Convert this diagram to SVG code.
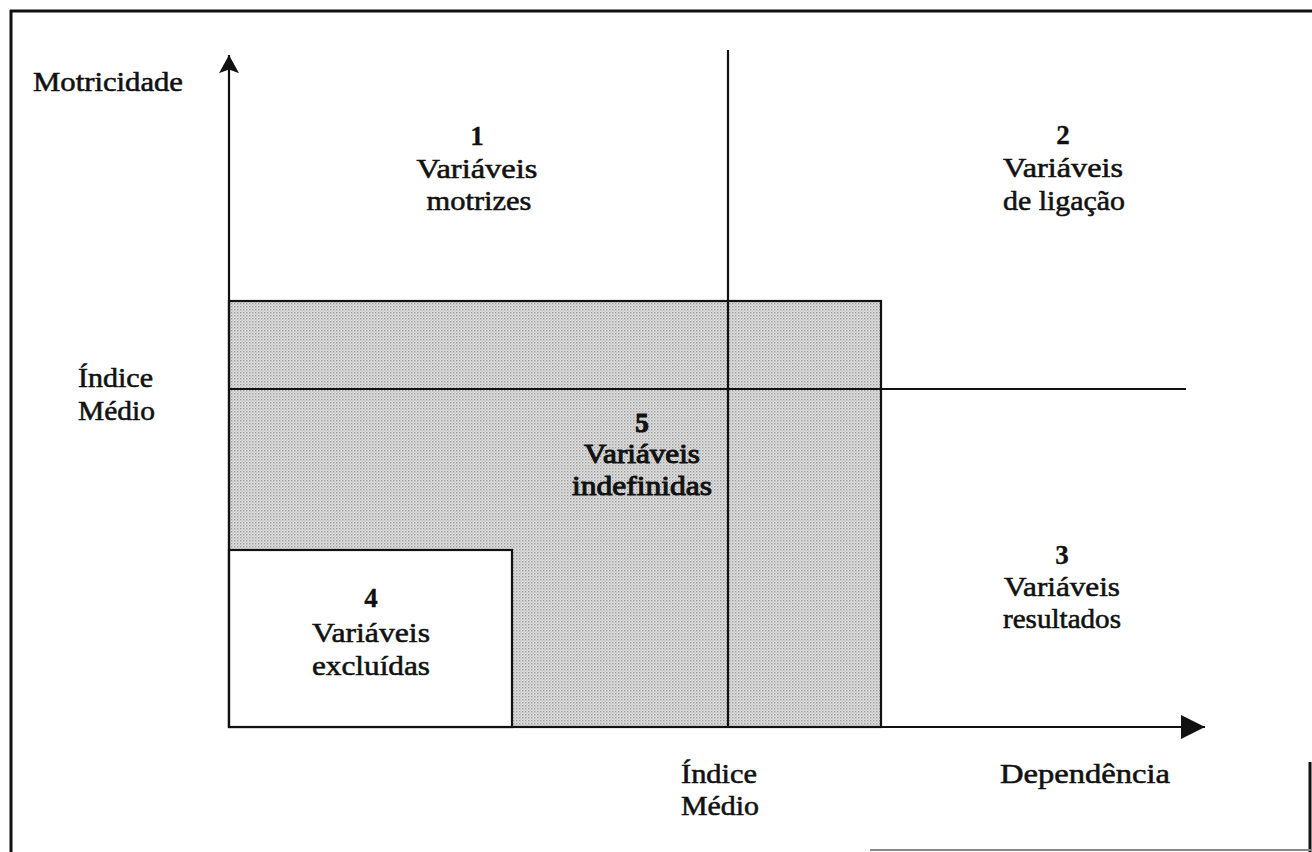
<svg xmlns="http://www.w3.org/2000/svg" width="1312" height="852" viewBox="0 0 1312 852">
  <defs>
    <style>
      .t { font-family: "Liberation Serif", "Times New Roman", serif; font-size: 27px; fill: #111; stroke: #111; stroke-width: 0.55; }
      .n { font-weight: bold; stroke-width: 0.3; }
      .heavy { stroke-width: 1; }
      .ln { stroke: #111; stroke-width: 2.2; fill: none; }
      .frame { stroke: #111; stroke-width: 3; fill: none; }
    </style>
    <!-- halftone dot screen used for the grey zone -->
    <pattern id="dots" width="3" height="3" patternUnits="userSpaceOnUse">
      <rect width="3" height="3" fill="#e0e0e0"/>
      <rect x="0" y="0" width="1.4" height="1.4" fill="#9c9c9c"/>
      <rect x="1.5" y="1.5" width="1.2" height="1.2" fill="#b8b8b8"/>
    </pattern>
    <marker id="arrowX" viewBox="0 0 24 24" refX="24" refY="12" markerWidth="24" markerHeight="24" markerUnits="userSpaceOnUse" orient="auto">
      <path d="M0,0 L24,12 L0,24 Z" fill="#111"/>
    </marker>
    <marker id="arrowY" viewBox="0 0 22 20" refX="20" refY="11" markerWidth="20" markerHeight="22" markerUnits="userSpaceOnUse" orient="auto">
      <path d="M0,0 L20,11 L0,22 L4,11 Z" fill="#111"/>
    </marker>
  </defs>

  <rect width="1312" height="852" fill="#ffffff"/>

  <!-- page frame -->
  <g id="frame">
    <line class="frame" x1="10" y1="11" x2="1312" y2="11"/>
    <line class="frame" x1="11" y1="10" x2="11" y2="852"/>
    <line class="frame" x1="1310" y1="762" x2="1310" y2="852" stroke-width="2"/>
    <line x1="870" y1="850" x2="1312" y2="850" stroke="#888" stroke-width="2"/>
  </g>

  <!-- zone 5: undefined variables (shaded) -->
  <g id="zone5">
    <rect x="229" y="301" width="652" height="426" fill="url(#dots)" stroke="#111" stroke-width="2.2"/>
    <text class="t n heavy" x="642" y="432" text-anchor="middle">5</text>
    <text class="t heavy" x="642" y="463" text-anchor="middle" textLength="116" lengthAdjust="spacingAndGlyphs">Variáveis</text>
    <text class="t heavy" x="642" y="495" text-anchor="middle" textLength="140" lengthAdjust="spacingAndGlyphs">indefinidas</text>
  </g>

  <!-- zone 4: excluded variables -->
  <g id="zone4">
    <rect x="229" y="550" width="283" height="177" fill="#ffffff" stroke="#111" stroke-width="2.2"/>
    <text class="t n" x="371" y="607" text-anchor="middle">4</text>
    <text class="t" x="371" y="642" text-anchor="middle" textLength="118" lengthAdjust="spacingAndGlyphs">Variáveis</text>
    <text class="t" x="371" y="675" text-anchor="middle" textLength="118" lengthAdjust="spacingAndGlyphs">excluídas</text>
  </g>

  <!-- axes and mean-index dividers -->
  <g id="connectors">
    <line class="ln" x1="728" y1="50" x2="728" y2="727"/>
    <line class="ln" x1="229" y1="389" x2="1186" y2="389"/>
    <line class="ln" x1="229" y1="727" x2="229" y2="55" marker-end="url(#arrowY)"/>
    <line class="ln" x1="229" y1="727" x2="1205" y2="727" marker-end="url(#arrowX)"/>
  </g>

  <!-- zone 1: driving variables -->
  <g id="zone1">
    <text class="t n" x="477" y="145" text-anchor="middle">1</text>
    <text class="t" x="477" y="178" text-anchor="middle" textLength="121" lengthAdjust="spacingAndGlyphs">Variáveis</text>
    <text class="t" x="479" y="210" text-anchor="middle" textLength="105" lengthAdjust="spacingAndGlyphs">motrizes</text>
  </g>

  <!-- zone 2: linkage variables -->
  <g id="zone2">
    <text class="t n" x="1063" y="144" text-anchor="middle">2</text>
    <text class="t" x="1063" y="177" text-anchor="middle" textLength="120" lengthAdjust="spacingAndGlyphs">Variáveis</text>
    <text class="t" x="1064" y="210" text-anchor="middle" textLength="122" lengthAdjust="spacingAndGlyphs">de ligação</text>
  </g>

  <!-- zone 3: result variables -->
  <g id="zone3">
    <text class="t n" x="1062" y="564" text-anchor="middle">3</text>
    <text class="t" x="1062" y="596" text-anchor="middle" textLength="116" lengthAdjust="spacingAndGlyphs">Variáveis</text>
    <text class="t" x="1062" y="628" text-anchor="middle" textLength="118" lengthAdjust="spacingAndGlyphs">resultados</text>
  </g>

  <!-- axis labels -->
  <g id="label-motricidade">
    <text class="t" x="33" y="91" textLength="150" lengthAdjust="spacingAndGlyphs">Motricidade</text>
  </g>
  <g id="label-indice-y">
    <text class="t" x="78" y="387" textLength="75" lengthAdjust="spacingAndGlyphs">Índice</text>
    <text class="t" x="78" y="420" textLength="77" lengthAdjust="spacingAndGlyphs">Médio</text>
  </g>
  <g id="label-indice-x">
    <text class="t" x="681" y="783" textLength="76" lengthAdjust="spacingAndGlyphs">Índice</text>
    <text class="t" x="681" y="815" textLength="78" lengthAdjust="spacingAndGlyphs">Médio</text>
  </g>
  <g id="label-dependencia">
    <text class="t" x="1000" y="783" textLength="170" lengthAdjust="spacingAndGlyphs">Dependência</text>
  </g>
</svg>
